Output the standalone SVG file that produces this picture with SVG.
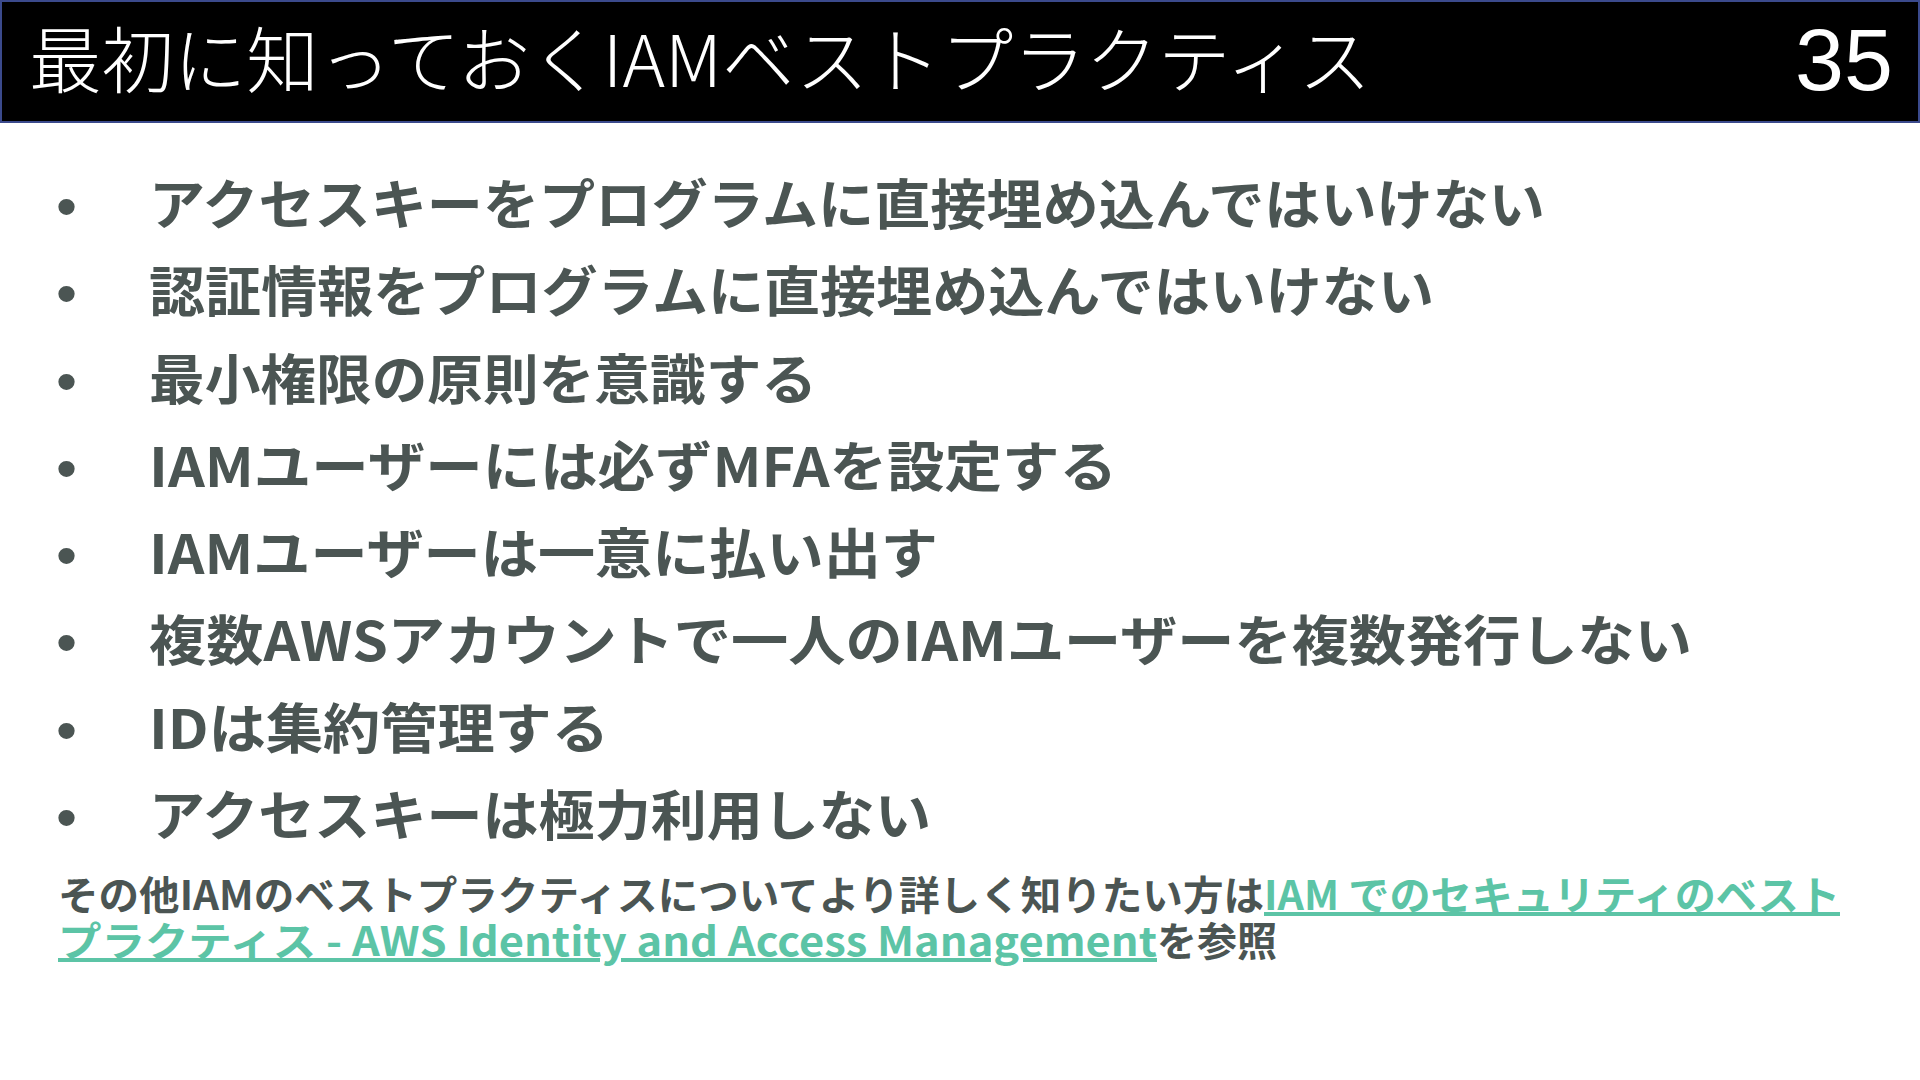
<svg xmlns="http://www.w3.org/2000/svg" width="1920" height="1080" viewBox="0 0 1920 1080">
<style>
.title{font-family:"Noto Sans CJK JP","Noto Sans",sans-serif;font-weight:300;font-size:72px;fill:#ffffff}
.num{font-family:"Liberation Sans",Arial,sans-serif;font-size:88px;fill:#ffffff}
.item{font-family:"Noto Sans CJK JP","Noto Sans",sans-serif;font-weight:700;font-size:54px;fill:#4b5553}
.bul{font-family:"Liberation Sans",Arial,sans-serif;font-size:60px;fill:#4b5553}
.foot{font-family:"Noto Sans CJK JP","Noto Sans",sans-serif;font-weight:700;font-size:40px;fill:#4b5553}
.link{font-family:"Noto Sans CJK JP","Noto Sans",sans-serif;font-weight:700;font-size:40px;fill:#5cc4a6;text-decoration:underline}
</style>
<rect width="1920" height="1080" fill="#ffffff"/>
<g id="header">
<rect x="1" y="1" width="1918" height="121" fill="#000000" stroke="#3b4a8c" stroke-width="2"/>
<text class="title" x="29" y="87" textLength="1342" lengthAdjust="spacingAndGlyphs">最初に知っておくIAMベストプラクティス</text>
<text class="num" x="1893" y="90" text-anchor="end">35</text>
</g>
<g id="bullets">
<text class="bul" x="56" y="227">•</text>
<text class="item" x="149" y="225" textLength="1396" lengthAdjust="spacingAndGlyphs">アクセスキーをプログラムに直接埋め込んではいけない</text>
<text class="bul" x="56" y="314">•</text>
<text class="item" x="149" y="312" textLength="1285" lengthAdjust="spacingAndGlyphs">認証情報をプログラムに直接埋め込んではいけない</text>
<text class="bul" x="56" y="402">•</text>
<text class="item" x="149" y="400" textLength="668" lengthAdjust="spacingAndGlyphs">最小権限の原則を意識する</text>
<text class="bul" x="56" y="489">•</text>
<text class="item" x="149" y="487" textLength="968" lengthAdjust="spacingAndGlyphs">IAMユーザーには必ずMFAを設定する</text>
<text class="bul" x="56" y="576">•</text>
<text class="item" x="149" y="574" textLength="789" lengthAdjust="spacingAndGlyphs">IAMユーザーは一意に払い出す</text>
<text class="bul" x="56" y="663">•</text>
<text class="item" x="149" y="661" textLength="1543" lengthAdjust="spacingAndGlyphs">複数AWSアカウントで一人のIAMユーザーを複数発行しない</text>
<text class="bul" x="56" y="751">•</text>
<text class="item" x="149" y="749" textLength="460" lengthAdjust="spacingAndGlyphs">IDは集約管理する</text>
<text class="bul" x="56" y="838">•</text>
<text class="item" x="149" y="836" textLength="782" lengthAdjust="spacingAndGlyphs">アクセスキーは極力利用しない</text>
</g>
<g id="footer">
<text class="foot" x="58" y="910" textLength="1206" lengthAdjust="spacingAndGlyphs">その他IAMのベストプラクティスについてより詳しく知りたい方は</text>
<text class="link" x="1264" y="910" textLength="576" lengthAdjust="spacingAndGlyphs">IAM でのセキュリティのベスト</text>
<text class="link" x="58" y="956" textLength="1099" lengthAdjust="spacingAndGlyphs">プラクティス - AWS Identity and Access Management</text>
<text class="foot" x="1157" y="956" textLength="120" lengthAdjust="spacingAndGlyphs">を参照</text>
</g>
</svg>
